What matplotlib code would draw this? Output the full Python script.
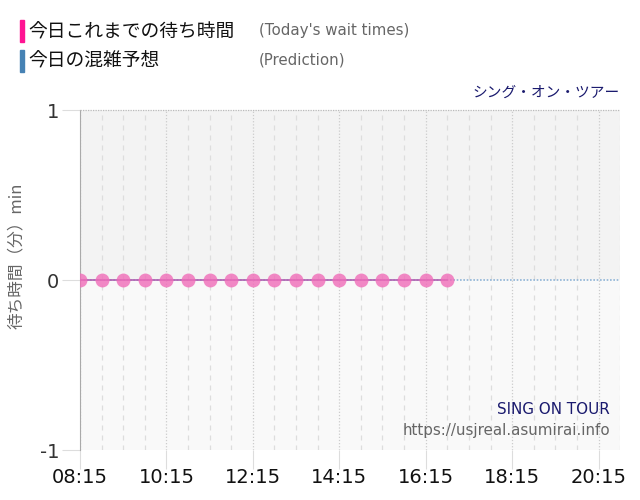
import matplotlib
matplotlib.use("Agg")
import matplotlib.pyplot as plt
import numpy as np

plt.rcParams['font.family'] = ['Noto Sans CJK JP', 'DejaVu Sans']

# data
wait_times = ["08:15", "08:45", "09:15", "09:45", "10:15", "10:45", "11:15", "11:45", "12:15",
              "12:45", "13:15", "13:45", "14:15", "14:45", "15:15", "15:45", "16:15", "16:45"]
wait_values = [0, 0, 0, 0, 0, 0, 0, 0, 0, 0, 0, 0, 0, 0, 0, 0, 0, 0]
pred_times = ["08:15", "10:15", "12:15", "14:15", "16:15", "18:15", "20:15", "20:45"]
pred_values = [0, 0, 0, 0, 0, 0, 0, 0]
tick_labels = ["08:15", "10:15", "12:15", "14:15", "16:15", "18:15", "20:15"]

def to_h(t):
    h, m = t.split(":")
    return int(h) + int(m) / 60

wx = np.array([to_h(t) for t in wait_times])
px = np.array([to_h(t) for t in pred_times])
tx = [to_h(t) for t in tick_labels]
x0, x1 = to_h("08:15"), to_h("20:45")

fig = plt.figure(figsize=(6.4, 5), dpi=100)
ax = fig.add_axes([0.125, 0.1, 0.844, 0.68])

ax.set_xlim(x0, x1)
ax.set_ylim(-1, 1)
ax.axhspan(0, 1, color="#f3f3f3", zorder=0)
ax.axhspan(-1, 0, color="#f9f9f9", zorder=0)

# grid
for m in np.arange(x0, x1 + 0.01, 0.5):
    if any(abs(m - t) < 1e-6 for t in tx):
        ax.axvline(m, color="#cccccc", lw=0.9, ls=(0, (1, 1.5)), zorder=1)
    else:
        ax.axvline(m, color="#dddddd", lw=0.9, ls=(0, (4, 4)), zorder=1)

ax.plot(px, pred_values, color="#8fb4d6", lw=1.2, ls=(0, (1, 1)), zorder=2)
ax.plot(wx, wait_values, color="#b060b0", lw=1.2, zorder=3)
ax.plot(wx, wait_values, ls="none", marker="o", ms=10, color="#f06cb8", alpha=0.8,
        markeredgewidth=0, zorder=4)

for s in ["top", "right"]:
    ax.spines[s].set_visible(False)
ax.plot([x0, x1], [1, 1], color="#bbbbbb", lw=0.9, ls=(0, (1, 1)), clip_on=False, zorder=5)
ax.spines["left"].set_color("#aaaaaa")
ax.spines["bottom"].set_visible(False)

ax.set_xticks(tx)
ax.set_xticklabels(tick_labels, fontsize=14, family="DejaVu Sans", color="#111111")
ax.tick_params(axis="x", length=14, color="#dddddd", pad=-1)
ax.set_yticks([-1, 0, 1])
ax.set_yticklabels(["-1", "0", "1"], fontsize=14, family="DejaVu Sans", color="#333333")
ax.tick_params(axis="y", length=13, color="#dddddd", pad=2)

ax.set_ylabel("待ち時間（分）min", fontsize=12, color="#666666")
ax.yaxis.set_label_coords(-0.101, 0.57)

# legend
fig.patches.append(plt.Rectangle((20 / 640, 1 - 42 / 500), 4 / 640, 22 / 500,
                                 transform=fig.transFigure, color="#ff1493"))
fig.patches.append(plt.Rectangle((20 / 640, 1 - 72 / 500), 4 / 640, 22 / 500,
                                 transform=fig.transFigure, color="#4682b4"))
fig.text(28 / 640, 1 - 32 / 500, "今日これまでの待ち時間", fontsize=13.5, va="center", color="#111111")
fig.text(28 / 640, 1 - 61 / 500, "今日の混雑予想", fontsize=13.5, va="center", color="#111111")
fig.text(259 / 640, 1 - 31 / 500, "(Today's wait times)", fontsize=10.8, va="center",
         color="#666666", family="DejaVu Sans")
fig.text(259 / 640, 1 - 60 / 500, "(Prediction)", fontsize=10.8, va="center",
         color="#666666", family="DejaVu Sans")

fig.text(620 / 640, 1 - 93 / 500, "シング・オン・ツアー", fontsize=10.6, ha="right", va="center",
         color="#1a1a6e")
fig.text(610 / 640, 1 - 410 / 500, "SING ON TOUR", fontsize=10.9, ha="right", va="center",
         color="#1a1a6e", family="DejaVu Sans")
fig.text(610 / 640, 1 - 431 / 500, "https://usjreal.asumirai.info", fontsize=10.9, ha="right",
         va="center", color="#666666", family="DejaVu Sans")

fig.savefig("out.png", dpi=100)
